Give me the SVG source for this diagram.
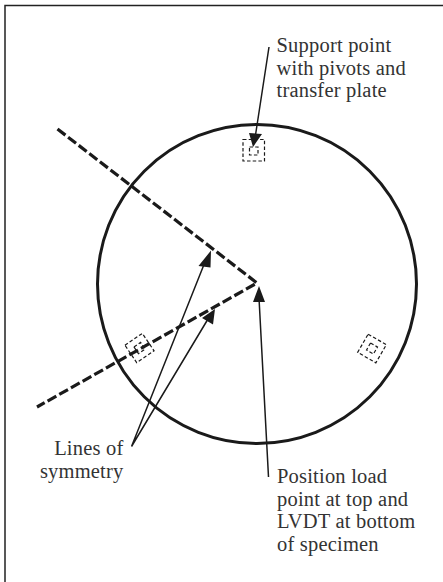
<svg xmlns="http://www.w3.org/2000/svg" width="443" height="582" viewBox="0 0 443 582">
<style>
text{font-family:"Liberation Serif",serif;font-size:20.500px;letter-spacing:.2px;fill:#333}
.lead{stroke:#1a1a1a;stroke-width:1.500;fill:none}
.head{fill:#1a1a1a}
.sym{stroke:#1a1a1a;stroke-width:3.200;fill:none;stroke-dasharray:10 3.400}
.pad{stroke:#1a1a1a;stroke-width:1.200;fill:none;stroke-dasharray:3.500 2.200}
</style>
<rect width="443" height="582" fill="#fff"/>
<path id="frame" d="M5 582V5.500H443" fill="none" stroke="#222" stroke-width="1.500"/>
<circle id="specimen" cx="257" cy="284" r="159.500" fill="none" stroke="#1a1a1a" stroke-width="3"/>
<g id="support-top"><rect class="pad" x="243" y="139.500" width="21.500" height="21.500"/><rect class="pad" x="249.500" y="147" width="8.500" height="8"/></g>
<g id="support-left" transform="rotate(-34 139.500 348)"><rect class="pad" x="129" y="337.500" width="21" height="21"/><rect class="pad" x="135.500" y="344" width="8" height="8"/></g>
<g id="support-right" transform="rotate(30 372 348.500)"><rect class="pad" x="361.500" y="338" width="21" height="21"/><rect class="pad" x="368" y="344.500" width="8" height="8"/></g>
<g id="connectors">
<path class="sym" d="M57.500 129L257 283L37 407"/>
<path class="lead" d="M269 47L255.500 135M131.500 446.500L205 262M131.500 446.500L208 319M268.500 477L259 298"/>
<path class="head" d="M249 133L262 134L253 147ZM198.500 266L210.500 267.500L211 250.500ZM202 318L213 324.500L215 309ZM253 302L265 302L259 286Z"/>
</g>
<g id="label-support"><text x="276.500" y="52">Support point</text><text x="276.500" y="74.500">with pivots and</text><text x="276.500" y="97">transfer plate</text></g>
<g id="label-symmetry"><text x="123.500" y="455" text-anchor="end">Lines of</text><text x="123.500" y="478" text-anchor="end">symmetry</text></g>
<g id="label-position"><text x="277" y="483">Position load</text><text x="277" y="506">point at top and</text><text x="277" y="528">LVDT at bottom</text><text x="277" y="551">of specimen</text></g>
</svg>
